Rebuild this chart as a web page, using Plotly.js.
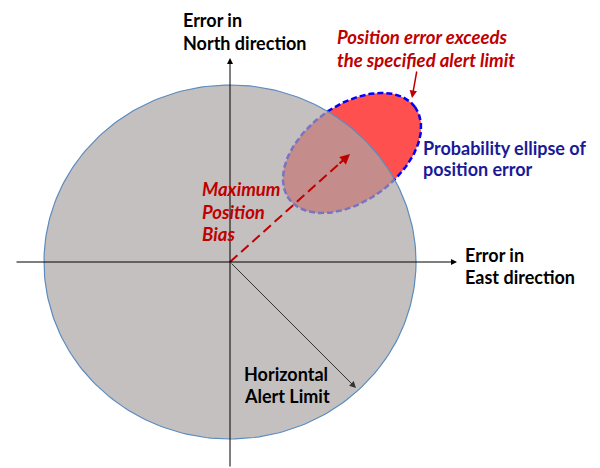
<!DOCTYPE html>
<html><head><meta charset="utf-8">
<script src="https://cdn.plot.ly/plotly-3.0.1.min.js"></script>
<style>html,body{margin:0;padding:0;background:#fff}#chart{width:600px;height:468px}</style>
</head><body><div id="chart"></div>
<script>
// Horizontal alert-limit circle (data units, origin = zero error)
const circleCenter = [0, 0];
const circleRadii = [186, 177];
// Probability ellipse of position error
const ellipseCenter = [122, 109];
const ellipseSemiAxes = [78, 48];
const ellipseAngleDeg = 36;
// Vectors from the origin
const biasVector = [120, 108];
const halVector = [126, -126];
// Axis extents
const eastAxis = [-215, 227];
const northAxis = [-206, 204];
// Callout arrow (from text to ellipse)
const calloutFrom = [187, 192];
const calloutTo = [182, 164];
// Labels
const northLabel = ["Error in", "North direction"];
const eastLabel = ["Error in", "East direction"];
const exceedLabel = ["Position error exceeds", "the specified alert limit"];
const ellipseLabel = ["Probability ellipse of", "position error"];
const biasLabel = ["Maximum", "Position", "Bias"];
const halLabel = ["Horizontal", "Alert Limit"];

function ellipsePts(c, r, angDeg, n) {
  const a = angDeg * Math.PI / 180, xs = [], ys = [];
  for (let i = 0; i <= n; i++) {
    const t = 2 * Math.PI * i / n;
    const ex = r[0] * Math.cos(t), ey = r[1] * Math.sin(t);
    xs.push(c[0] + ex * Math.cos(a) - ey * Math.sin(a));
    ys.push(c[1] + ex * Math.sin(a) + ey * Math.cos(a));
  }
  return [xs, ys];
}
const ell = ellipsePts(ellipseCenter, ellipseSemiAxes, ellipseAngleDeg, 200);
const circ = ellipsePts(circleCenter, circleRadii, 0, 240);

const RED = '#C00000';
const FONT = 'Lato, "Open Sans", sans-serif';

const traces = [
  {x: ell[0], y: ell[1], mode: 'lines', fill: 'toself', fillcolor: '#FF5050',
   line: {color: '#0000FF', width: 2.5, dash: '6px,3px'}, hoverinfo: 'skip'},
  {x: circ[0], y: circ[1], mode: 'lines', fill: 'toself', fillcolor: 'rgba(171,165,164,0.7)',
   line: {color: '#5B8BBF', width: 1.2}, hoverinfo: 'skip'},
  {x: [0, biasVector[0] * 0.93], y: [0, biasVector[1] * 0.93], mode: 'lines',
   line: {color: RED, width: 2, dash: '10px,5px'}, hoverinfo: 'skip'}
];

function arrow(tail, tip, color, width, size) {
  return {x: tip[0], y: tip[1], ax: tail[0], ay: tail[1], xref: 'x', yref: 'y', axref: 'x', ayref: 'y',
          text: '', showarrow: true, arrowhead: 2, arrowsize: size, arrowwidth: width,
          arrowcolor: color, standoff: 0, startstandoff: 0};
}
function label(lines, x0, y0, step, color, italic) {
  return lines.map((t, i) => ({
    x: x0, y: y0 - i * step, xref: 'x', yref: 'y', xanchor: 'left', yanchor: 'middle',
    showarrow: false, text: italic ? '<b><i>' + t + '</i></b>' : '<b>' + t + '</b>',
    font: {family: FONT, size: italic ? 18.5 : 18, color: color}
  }));
}

const annotations = [
  arrow([eastAxis[0], 0], [eastAxis[1], 0], '#000', 1, 1.2),
  arrow([0, northAxis[0]], [0, northAxis[1]], '#000', 1, 1.2),
  arrow([0, 0], halVector, '#333', 1, 1.3),
  arrow([biasVector[0] * 0.9, biasVector[1] * 0.9], biasVector, RED, 2, 1),
  arrow(calloutFrom, calloutTo, RED, 1.5, 1),
  ...label(northLabel, -49, 242, 23, '#000', false),
  ...label(exceedLabel, 105, 225, 23, RED, true),
  ...label(ellipseLabel, 191, 114, 21, '#1A1A99', false),
  ...label(eastLabel, 233, 7, 22, '#000', false),
  ...label(biasLabel, -30, 73, 22.5, RED, true),
  ...label(halLabel, 12, -112, 22, '#000', false)
];

const layout = {
  width: 600, height: 468, margin: {l: 0, r: 0, t: 0, b: 0},
  paper_bgcolor: '#fff', plot_bgcolor: '#fff', showlegend: false, hovermode: false,
  xaxis: {range: [-230, 370], visible: false, fixedrange: true},
  yaxis: {range: [-206, 262], visible: false, fixedrange: true},
  annotations: annotations
};
Plotly.newPlot('chart', traces, layout, {staticPlot: true});
</script></body></html>
